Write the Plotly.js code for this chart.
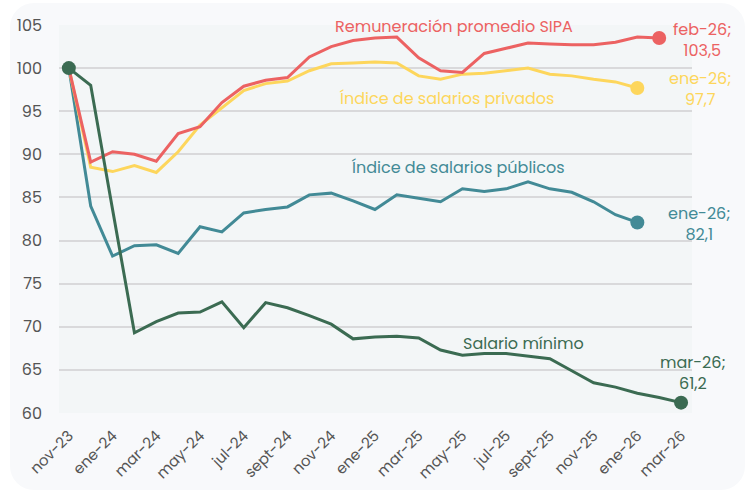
<!DOCTYPE html>
<html>
<head>
<meta charset="utf-8">
<script src="https://cdn.plot.ly/plotly-3.0.1.min.js"></script>
<style>
  html, body { margin: 0; padding: 0; background: #ffffff; }
  #card { position: absolute; left: 10px; top: 3px; width: 735px; height: 487px;
          border-radius: 24px; background: #f8f9fb; }
  #chartDiv { position: absolute; left: 0; top: 0; width: 748px; height: 495px; }
</style>
</head>
<body>
<div id="card"></div>
<div id="chartDiv"></div>
<script>
// months nov-23 .. mar-26
var months = ['nov-23', 'dic-23', 'ene-24', 'feb-24', 'mar-24', 'abr-24', 'may-24', 'jun-24',
    'jul-24', 'ago-24', 'sept-24', 'oct-24', 'nov-24', 'dic-24', 'ene-25', 'feb-25', 'mar-25',
    'abr-25', 'may-25', 'jun-25', 'jul-25', 'ago-25', 'sept-25', 'oct-25', 'nov-25', 'dic-25',
    'ene-26', 'feb-26', 'mar-26'];
var tickMonths = ['nov-23', 'ene-24', 'mar-24', 'may-24', 'jul-24', 'sept-24', 'nov-24', 'ene-25',
    'mar-25', 'may-25', 'jul-25', 'sept-25', 'nov-25', 'ene-26', 'mar-26'];

// series values
var sipa = [100, 89.1, 90.3, 90.0, 89.2, 92.4, 93.2, 96.0, 97.9, 98.6, 98.9, 101.3, 102.5, 103.2,
    103.5, 103.6, 101.2, 99.7, 99.5, 101.7, 102.3, 102.9, 102.8, 102.7, 102.7, 103.0, 103.6, 103.5];
var privados = [100, 88.5, 88.0, 88.7, 87.9, 90.3, 93.4, 95.4, 97.4, 98.2, 98.5, 99.7, 100.5, 100.6,
    100.7, 100.6, 99.1, 98.7, 99.3, 99.4, 99.7, 100.0, 99.3, 99.1, 98.7, 98.4, 97.7];
var publicos = [100, 84.0, 78.2, 79.4, 79.5, 78.5, 81.6, 81.0, 83.2, 83.6, 83.9, 85.3, 85.5, 84.6,
    83.6, 85.3, 84.9, 84.5, 86.0, 85.7, 86.0, 86.8, 86.0, 85.6, 84.5, 83.0, 82.1];
var minimo = [100, 98.0, 83.6, 69.3, 70.6, 71.6, 71.7, 72.9, 69.9, 72.8, 72.2, 71.3, 70.3, 68.6,
    68.8, 68.9, 68.7, 67.3, 66.7, 66.9, 66.9, 66.6, 66.3, 64.9, 63.5, 63.0, 62.3, 61.8, 61.2];

var cRed = '#ec6262', cYellow = '#fdd65c', cTeal = '#428a96', cGreen = '#3b6b52';
var fontFam = 'Poppins, "Open Sans", sans-serif';

function makeLine(vals, color) {
    return {
        x: months.slice(0, vals.length), y: vals, type: 'scatter', mode: 'lines',
        line: { color: color, width: 3 }, hoverinfo: 'skip', showlegend: false
    };
}
// one dot on a given point of a series
function makeDot(vals, idx, color) {
    return {
        x: [months[idx]], y: [vals[idx]], type: 'scatter', mode: 'markers',
        marker: { color: color, size: 14, opacity: 1 },
        hoverinfo: 'skip', showlegend: false, cliponaxis: false
    };
}

var data = [
    makeLine(publicos, cTeal), makeLine(privados, cYellow), makeLine(sipa, cRed), makeLine(minimo, cGreen),
    makeDot(publicos, publicos.length - 1, cTeal),
    makeDot(privados, privados.length - 1, cYellow),
    makeDot(sipa, sipa.length - 1, cRed),
    makeDot(minimo, minimo.length - 1, cGreen),
    makeDot(minimo, 0, cGreen)
];

function note(text, x, y, color, xref) {
    return { text: text, x: x, y: y, xref: xref || 'x', yref: 'y', showarrow: false,
        xanchor: 'center', yanchor: 'middle', align: 'center',
        font: { family: fontFam, size: 16, color: color } };
}

var layout = {
    width: 748, height: 495,
    margin: { l: 59, r: 56, t: 25, b: 82 },
    paper_bgcolor: 'rgba(0,0,0,0)',
    plot_bgcolor: '#f3f6f7',
    font: { family: fontFam, color: '#555555' },
    xaxis: {
        type: 'category', range: [-0.45, 28.5],
        tickvals: tickMonths, ticktext: tickMonths, tickangle: -45,
        showgrid: false, zeroline: false, showline: false, ticks: '',
        ticklabelstandoff: 10,
        tickfont: { size: 15, color: '#555555' }
    },
    yaxis: {
        range: [60, 105], dtick: 5, showgrid: true, gridcolor: '#d9d9db', gridwidth: 2,
        zeroline: false, showline: false, ticks: '', ticklabelstandoff: 16,
        tickfont: { size: 16, color: '#555555' }
    },
    annotations: [
        note('Remuneración promedio SIPA', 17.6, 104.8, cRed),
        note('Índice de salarios privados', 17.3, 96.5, cYellow),
        note('Índice de salarios públicos', 17.8, 88.5, cTeal),
        note('Salario mínimo', 20.8, 68.1, cGreen),
        note('feb-26;<br>103,5', 1.016, 103.3, cRed, 'paper'),
        note('ene-26;<br>97,7', 1.013, 97.6, cYellow, 'paper'),
        note('ene-26;<br>82,1', 1.011, 81.9, cTeal, 'paper'),
        note('mar-26;<br>61,2', 1.002, 64.6, cGreen, 'paper')
    ]
};

Plotly.newPlot('chartDiv', data, layout, { staticPlot: true });
</script>
</body>
</html>
